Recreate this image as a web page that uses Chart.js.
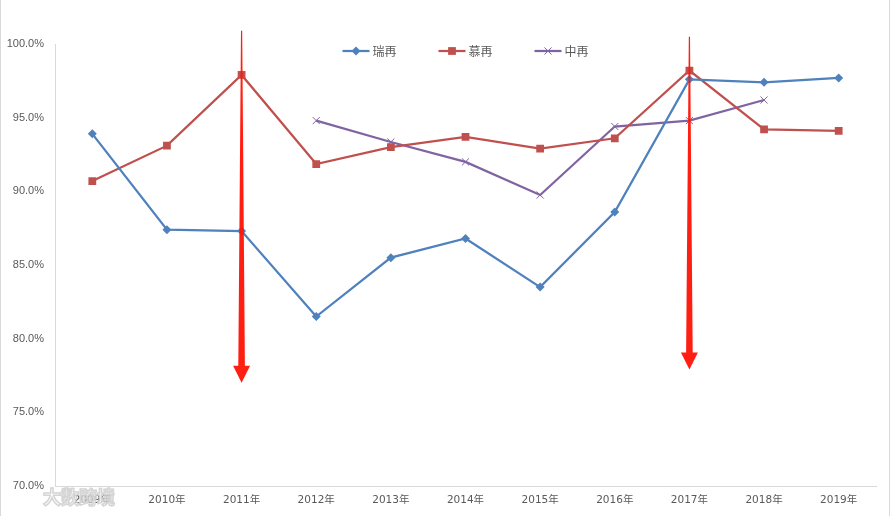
<!DOCTYPE html>
<html><head><meta charset="utf-8">
<script src="https://cdn.jsdelivr.net/npm/chart.js@4/dist/chart.umd.min.js"></script>
<style>html,body{margin:0;padding:0;background:#fff}#wrap{width:890px;height:516px}</style>
</head><body><div id="wrap"><canvas id="c" width="890" height="516"></canvas></div>
<script>
const years = ['2009年','2010年','2011年','2012年','2013年','2014年','2015年','2016年','2017年','2018年','2019年'];
const ruiZai = [93.9, 87.4, 87.3, 81.5, 85.5, 86.8, 83.5, 88.6, 97.6, 97.4, 97.7];
const muZai = [90.7, 93.1, 97.9, 91.85, 93.0, 93.7, 92.9, 93.6, 98.2, 94.2, 94.1];
const zhongZai = [null, null, null, 94.8, 93.35, 92.0, 89.75, 94.4, 94.8, 96.2, null];
const seriesNames = ['瑞再', '慕再', '中再'];
const yMin = 70, yMax = 100, yStep = 5;
const arrowMarks = [{year: '2011年', from: 100.9, to: 77.0}, {year: '2017年', from: 100.5, to: 77.9}];
const watermark = '大数跨境';

const colors = ['#4F81BD', '#C0504D', '#8064A2'];
const styles = ['rectRot', 'rect', 'crossRot'];
const radii = [4.5, 5.5, 5];

function drawMarker(ctx, style, x, y, r, color) {
  ctx.save();
  ctx.fillStyle = color; ctx.strokeStyle = color;
  ctx.beginPath();
  if (style === 'rectRot') {
    ctx.moveTo(x, y - r); ctx.lineTo(x + r, y); ctx.lineTo(x, y + r); ctx.lineTo(x - r, y); ctx.closePath(); ctx.fill();
  } else if (style === 'rect') {
    const s = r * Math.SQRT1_2; ctx.rect(x - s, y - s, 2 * s, 2 * s); ctx.fill();
  } else {
    const s = r * Math.SQRT1_2; ctx.lineWidth = 1;
    ctx.moveTo(x - s, y - s); ctx.lineTo(x + s, y + s); ctx.moveTo(x + s, y - s); ctx.lineTo(x - s, y + s); ctx.stroke();
  }
  ctx.restore();
}

const borderPlugin = {
  id: 'frame',
  beforeDraw(chart) {
    const ctx = chart.ctx;
    ctx.save();
    ctx.fillStyle = '#fff'; ctx.fillRect(0, 0, chart.width, chart.height);
    ctx.strokeStyle = '#D9D9D9'; ctx.lineWidth = 1;
    ctx.beginPath(); ctx.moveTo(0.5, 0); ctx.lineTo(0.5, chart.height);
    ctx.moveTo(chart.width - 0.5, 0); ctx.lineTo(chart.width - 0.5, chart.height); ctx.stroke();
    ctx.restore();
  }
};

const arrowPlugin = {
  id: 'arrows',
  afterDatasetsDraw(chart) {
    const ctx = chart.ctx, xs = chart.scales.x, ys = chart.scales.y;
    ctx.save();
    ctx.fillStyle = 'rgba(255,22,8,0.96)';
    arrowMarks.forEach(a => {
      const x = xs.getPixelForValue(years.indexOf(a.year));
      const yTop = ys.getPixelForValue(a.from);
      const yTip = ys.getPixelForValue(a.to);
      const headH = 17, headW = 8.5;
      const yHead = yTip - headH;
      ctx.beginPath();
      ctx.moveTo(x - 0.6, yTop);
      ctx.lineTo(x + 0.6, yTop);
      ctx.lineTo(x + 3.3, yHead);
      ctx.lineTo(x + headW, yHead);
      ctx.lineTo(x, yTip);
      ctx.lineTo(x - headW, yHead);
      ctx.lineTo(x - 3.3, yHead);
      ctx.closePath();
      ctx.fill();
    });
    ctx.restore();
  }
};

const legendPlugin = {
  id: 'customLegend',
  afterDraw(chart) {
    const ctx = chart.ctx, area = chart.chartArea;
    const lineLen = 27, gap = 3, step = 96;
    ctx.save();
    ctx.font = '12px "Noto Sans CJK SC", sans-serif';
    const lastW = lineLen + gap + ctx.measureText(seriesNames[2]).width;
    const total = step * (seriesNames.length - 1) + lastW;
    let x0 = (area.left + area.right) / 2 - total / 2;
    const y = 51;
    seriesNames.forEach((n, i) => {
      const x = x0 + i * step;
      ctx.strokeStyle = colors[i]; ctx.lineWidth = 2.25;
      ctx.beginPath(); ctx.moveTo(x, y); ctx.lineTo(x + lineLen, y); ctx.stroke();
      drawMarker(ctx, styles[i], x + lineLen / 2, y, radii[i], colors[i]);
      ctx.fillStyle = '#595959'; ctx.textBaseline = 'middle'; ctx.textAlign = 'left';
      ctx.fillText(n, x + lineLen + gap, y);
    });
    // watermark
    ctx.font = 'bold 18px "Noto Sans CJK SC", sans-serif';
    ctx.textBaseline = 'middle';
    ctx.lineWidth = 1.5; ctx.strokeStyle = 'rgba(205,205,205,0.85)';
    ctx.fillStyle = 'rgba(255,255,255,0.55)';
    ctx.fillText(watermark, 43, 497);
    ctx.strokeText(watermark, 43, 497);
    ctx.restore();
  }
};

const datasets = [ruiZai, muZai, zhongZai].map((d, i) => ({
  label: seriesNames[i], data: d,
  borderColor: colors[i], backgroundColor: colors[i],
  borderWidth: 2.25, tension: 0,
  pointStyle: styles[i], pointRadius: radii[i], pointHoverRadius: radii[i],
  pointBorderWidth: i === 2 ? 1 : 0, pointBorderColor: colors[i], pointBackgroundColor: colors[i],
  spanGaps: false
}));

new Chart(document.getElementById('c'), {
  type: 'line',
  data: { labels: years, datasets },
  options: {
    responsive: false, animation: false, devicePixelRatio: 1,
    layout: { padding: { top: 44, right: 14, left: 0, bottom: 0 } },
    plugins: { legend: { display: false }, tooltip: { enabled: false } },
    scales: {
      x: {
        type: 'category', offset: true,
        grid: { display: true, drawOnChartArea: false, drawTicks: false },
        border: { display: true, color: '#D9D9D9', width: 1 },
        ticks: { color: '#595959', font: { family: '"DejaVu Sans", "Noto Sans CJK SC"', size: 10.5 }, padding: 8, maxRotation: 0, autoSkip: false },
        afterFit(s) { s.height = 30; }
      },
      y: {
        min: yMin, max: yMax,
        grid: { display: true, drawOnChartArea: false, drawTicks: false },
        border: { display: true, color: '#D9D9D9', width: 1 },
        ticks: { stepSize: yStep, color: '#595959', font: { family: '"Liberation Sans", Arial', size: 11 }, padding: 11,
          callback: v => v.toFixed(1) + '%' },
        afterFit(s) { s.width = 55; }
      }
    }
  },
  plugins: [borderPlugin, arrowPlugin, legendPlugin]
});
</script></body></html>
